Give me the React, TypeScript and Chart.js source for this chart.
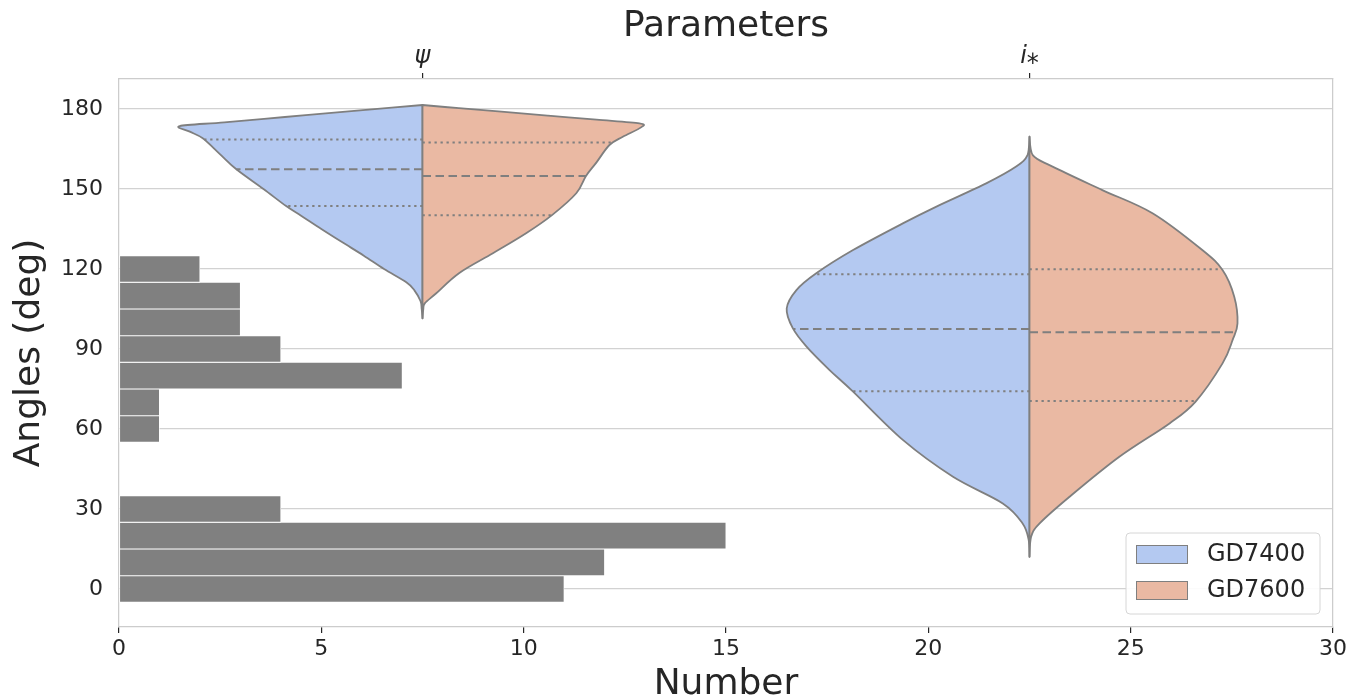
import React, { useEffect, useRef } from 'react';
import { Chart, registerables } from 'chart.js';

Chart.register(...registerables);

// ---------- data ----------
const histAngles = [0, 10, 20, 30, 40, 50, 60, 70, 80, 90, 100, 110, 120];
const histCounts = [11, 12, 15, 4, 0, 0, 1, 1, 7, 4, 3, 3, 2];

const xTickValues = [0, 5, 10, 15, 20, 25, 30];
const yTickValues = [0, 30, 60, 90, 120, 150, 180];

const paramPositions = [7.5, 22.5];
const paramLabels = ['ψ', 'i⁎'];
const seriesNames = ['GD7400', 'GD7600'];
const seriesColors = ['#b4c9f1', '#eab9a3'];

// psi violin, GD7400 half (left)
const psiBlueAngles = [101.5, 105, 108, 112, 115, 120, 125, 130, 135, 140, 143.6, 150, 157.4, 163, 169, 171.5, 173.6, 175, 177, 179, 180.5, 181.5];
const psiBlueWidths = [0, 0.02, 0.05, 0.2, 0.4, 0.95, 1.45, 1.98, 2.5, 3.0, 3.37, 3.93, 4.6, 5.0, 5.43, 5.75, 6.0, 4.9, 3.4, 1.9, 0.76, 0];
const psiBlueQuartiles = [143.6, 157.4, 168.6];

// psi violin, GD7600 half (right)
const psiOrangeAngles = [101.5, 105, 107.2, 110.9, 118.5, 125.9, 133.4, 140.2, 148.4, 154.9, 160, 166.5, 169.6, 173.1, 174.6, 176, 177.5, 179, 180.3, 181.5];
const psiOrangeWidths = [0, 0.02, 0.06, 0.34, 0.91, 1.74, 2.56, 3.2, 3.8, 4.04, 4.3, 4.62, 4.95, 5.4, 5.36, 4.3, 3.1, 1.95, 0.9, 0];
const psiOrangeQuartiles = [140.2, 154.9, 167.4];

// i* violin, GD7400 half (left)
const incBlueAngles = [12.1, 18.4, 24.6, 32.1, 42.1, 55.9, 74.0, 82.1, 90.9, 97.8, 105.2, 112.1, 118.4, 127.1, 137.1, 143.4, 152.1, 158.4, 162.7, 169.6];
const incBlueWidths = [0, 0.02, 0.17, 0.66, 1.89, 3.13, 4.36, 4.94, 5.51, 5.85, 6.0, 5.76, 5.27, 4.36, 3.13, 2.3, 1.07, 0.33, 0.05, 0];
const incBlueQuartiles = [74.2, 97.5, 118.0];

// i* violin, GD7600 half (right)
const incOrangeAngles = [12.1, 19.6, 24.6, 34.6, 49.6, 62.1, 70.2, 84.6, 93.4, 99.6, 109.6, 119.6, 127.1, 140.9, 149.6, 158.4, 162.7, 169.6];
const incOrangeWidths = [0, 0.04, 0.25, 0.99, 2.22, 3.46, 4.1, 4.77, 5.02, 5.14, 5.06, 4.77, 4.27, 3.04, 1.8, 0.57, 0.08, 0];
const incOrangeQuartiles = [70.5, 96.3, 119.9];

const violins = [
  {
    center: paramPositions[0],
    halves: [
      { side: -1, color: seriesColors[0], angles: psiBlueAngles, widths: psiBlueWidths, quartiles: psiBlueQuartiles },
      { side: 1, color: seriesColors[1], angles: psiOrangeAngles, widths: psiOrangeWidths, quartiles: psiOrangeQuartiles },
    ],
  },
  {
    center: paramPositions[1],
    halves: [
      { side: -1, color: seriesColors[0], angles: incBlueAngles, widths: incBlueWidths, quartiles: incBlueQuartiles },
      { side: 1, color: seriesColors[1], angles: incOrangeAngles, widths: incOrangeWidths, quartiles: incOrangeQuartiles },
    ],
  },
];

const TEXT = '#262626';
const SPINE = '#cccccc';
const EDGE = '#7f7f7f';
const FONT = "'DejaVu Sans'";

function interp(xs: number[], ys: number[], v: number) {
  for (let i = 0; i < xs.length - 1; i++) {
    if (v >= xs[i] && v <= xs[i + 1]) {
      const t = (v - xs[i]) / (xs[i + 1] - xs[i]);
      return ys[i] + t * (ys[i + 1] - ys[i]);
    }
  }
  return 0;
}

function catmull(ctx: CanvasRenderingContext2D, pts: number[][], cx: number, sign: number) {
  const clamp = (x: number) => (sign < 0 ? Math.min(x, cx) : Math.max(x, cx));
  ctx.moveTo(pts[0][0], pts[0][1]);
  for (let i = 0; i < pts.length - 1; i++) {
    const p0 = pts[Math.max(0, i - 1)];
    const p1 = pts[i];
    const p2 = pts[i + 1];
    const p3 = pts[Math.min(pts.length - 1, i + 2)];
    const c1x = clamp(p1[0] + (p2[0] - p0[0]) / 6);
    const c1y = p1[1] + (p2[1] - p0[1]) / 6;
    const c2x = clamp(p2[0] - (p3[0] - p1[0]) / 6);
    const c2y = p2[1] - (p3[1] - p1[1]) / 6;
    ctx.bezierCurveTo(c1x, c1y, c2x, c2y, p2[0], p2[1]);
  }
}

const violinPlugin = {
  id: 'violins',
  afterDatasetsDraw(chart: any) {
    const { ctx, chartArea } = chart;
    const x = chart.scales.x;
    const y = chart.scales.y;
    ctx.save();
    ctx.beginPath();
    ctx.rect(chartArea.left, chartArea.top, chartArea.right - chartArea.left, chartArea.bottom - chartArea.top);
    ctx.clip();
    for (const v of violins) {
      const cx = x.getPixelForValue(v.center);
      for (const h of v.halves) {
        const pts = h.angles.map((a, i) => [x.getPixelForValue(v.center + h.side * h.widths[i]), y.getPixelForValue(a)]);
        ctx.beginPath();
        catmull(ctx, pts, cx, h.side);
        ctx.lineTo(cx, y.getPixelForValue(h.angles[0]));
        ctx.closePath();
        ctx.fillStyle = h.color;
        ctx.fill();
        ctx.setLineDash([]);
        ctx.strokeStyle = EDGE;
        ctx.lineWidth = 1.8;
        ctx.lineJoin = 'round';
        ctx.stroke();
      }
      for (const h of v.halves) {
        h.quartiles.forEach((q, qi) => {
          const w = interp(h.angles, h.widths, q);
          const py = y.getPixelForValue(q);
          ctx.beginPath();
          ctx.setLineDash(qi === 1 ? [8.5, 4.5] : [2.3, 3.7]);
          ctx.strokeStyle = EDGE;
          ctx.lineWidth = 2;
          ctx.lineCap = 'butt';
          ctx.moveTo(cx, py);
          ctx.lineTo(x.getPixelForValue(v.center + h.side * w), py);
          ctx.stroke();
        });
      }
      ctx.setLineDash([]);
    }
    ctx.restore();
  },
};

const legendPlugin = {
  id: 'customLegend',
  afterDraw(chart: any) {
    const { ctx, chartArea } = chart;
    const w = 194;
    const h = 81;
    const left = chartArea.right - 13 - w;
    const top = chartArea.bottom - 13 - h;
    ctx.save();
    ctx.beginPath();
    ctx.roundRect(left, top, w, h, 4);
    ctx.fillStyle = 'rgba(255,255,255,0.9)';
    ctx.fill();
    ctx.strokeStyle = '#d6d6d6';
    ctx.lineWidth = 1;
    ctx.stroke();
    ctx.font = `24px ${FONT}`;
    ctx.textBaseline = 'middle';
    ctx.textAlign = 'left';
    seriesNames.forEach((name, i) => {
      const rowY = top + 21 + i * 36;
      ctx.fillStyle = seriesColors[i];
      ctx.fillRect(left + 10, rowY - 9, 51, 18);
      ctx.strokeStyle = EDGE;
      ctx.lineWidth = 1;
      ctx.strokeRect(left + 10.5, rowY - 8.5, 51, 18);
      ctx.fillStyle = TEXT;
      ctx.fillText(name, left + 81, rowY + 1);
    });
    ctx.restore();
  },
};

export default function App() {
  const ref = useRef<HTMLCanvasElement | null>(null);

  useEffect(() => {
    if (!ref.current) return;
    Chart.defaults.font.family = FONT;
    Chart.defaults.color = TEXT;

    const barData = histAngles
      .map((a, i) => ({ x: histCounts[i], y: a }))
      .filter((d) => d.x > 0);

    const chart = new Chart(ref.current, {
      type: 'bar',
      data: {
        datasets: [
          {
            label: 'count',
            data: barData as any,
            backgroundColor: '#808080',
            borderColor: '#ffffff',
            borderWidth: 0.8,
            borderSkipped: false,
            barPercentage: 1,
            categoryPercentage: 1,
          },
        ],
      },
      options: {
        indexAxis: 'y',
        animation: false,
        responsive: false,
        devicePixelRatio: 1,
        layout: { padding: { left: 0, right: 28, top: 0, bottom: 0 } },
        plugins: { legend: { display: false }, tooltip: { enabled: false } },
        scales: {
          x: {
            type: 'linear',
            position: 'bottom',
            min: 0,
            max: 30,
            offset: false,
            afterBuildTicks: (s: any) => {
              s.ticks = xTickValues.map((v) => ({ value: v }));
            },
            afterFit: (s: any) => {
              s.height = 73;
            },
            ticks: { font: { size: 22 }, color: TEXT, padding: 3, maxRotation: 0 },
            grid: { offset: false, drawOnChartArea: false, drawTicks: true, tickLength: 6, tickColor: TEXT, lineWidth: 1.2 },
            border: { display: true, color: SPINE, width: 1.25 },
            title: { display: true, text: 'Number', font: { size: 36, lineHeight: 1 }, color: TEXT, padding: { top: 0, bottom: -3 } },
          },
          x2: {
            type: 'linear',
            axis: 'x',
            position: 'top',
            min: 0,
            max: 30,
            offset: false,
            afterBuildTicks: (s: any) => {
              s.ticks = paramPositions.map((v) => ({ value: v }));
            },
            afterFit: (s: any) => {
              s.height = 79;
            },
            ticks: {
              font: { size: 24, style: 'italic' },
              color: TEXT,
              padding: 2,
              maxRotation: 0,
              autoSkip: false,
              callback: (_v: any, i: number) => paramLabels[i],
            },
            grid: { offset: false, drawOnChartArea: false, drawTicks: true, tickLength: 6, tickColor: TEXT, lineWidth: 1.2 },
            border: { display: true, color: SPINE, width: 1.25 },
            title: { display: true, text: 'Parameters', font: { size: 36, lineHeight: 1 }, color: TEXT, padding: { top: 9, bottom: 0 } },
          },
          y: {
            type: 'linear',
            position: 'left',
            min: -14.25,
            max: 191.25,
            offset: false,
            afterBuildTicks: (s: any) => {
              s.ticks = yTickValues.map((v) => ({ value: v }));
            },
            afterFit: (s: any) => {
              s.width = 119;
            },
            ticks: { font: { size: 22 }, color: TEXT, padding: 16 },
            grid: { offset: false, display: true, drawOnChartArea: true, drawTicks: false, color: '#d2d2d2', lineWidth: 1.2 },
            border: { display: true, color: SPINE, width: 1.25 },
            title: { display: true, text: 'Angles (deg)', font: { size: 36, lineHeight: 1 }, color: TEXT, padding: { top: 12, bottom: 0 } },
          },
          y2: {
            type: 'linear',
            axis: 'y',
            position: 'right',
            min: -14.25,
            max: 191.25,
            offset: false,
            ticks: { display: false },
            afterFit: (s: any) => {
              s.width = 0;
            },
            grid: { offset: false, drawOnChartArea: false, drawTicks: false },
            border: { display: true, color: SPINE, width: 1.25 },
          },
        },
      } as any,
      plugins: [violinPlugin, legendPlugin],
    });

    return () => chart.destroy();
  }, []);

  return (
    <div style={{ position: 'fixed', left: 0, top: 0, width: 1361, height: 700, background: '#fff' }}>
      <canvas ref={ref} width={1361} height={700} style={{ width: 1361, height: 700, display: 'block' }} />
    </div>
  );
}
